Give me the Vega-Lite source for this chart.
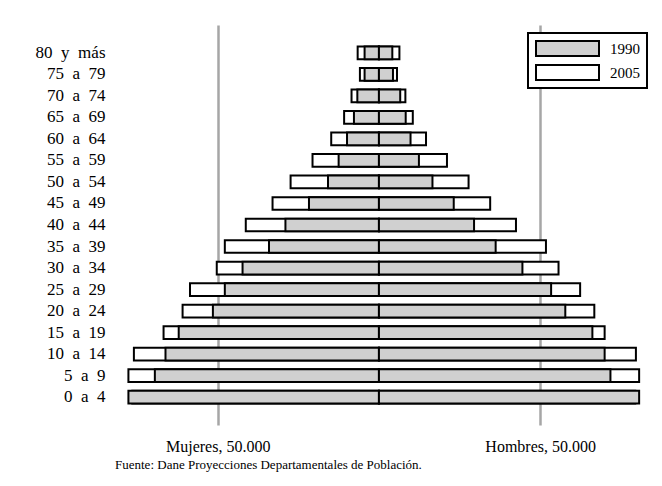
{
  "$schema": "https://vega.github.io/schema/vega-lite/v6.json",
  "width": 532,
  "height": 400,
  "autosize": "none",
  "padding": {"left": 121, "top": 25, "right": 9, "bottom": 61},
  "background": "white",
  "config": {"view": {"stroke": null}, "font": "Liberation Serif"},
  "title": {"text": "Fuente: Dane Proyecciones Departamentales de Población.", "orient": "bottom", "anchor": "start", "frame": "group", "fontSize": 13, "fontWeight": "normal", "font": "Liberation Serif", "color": "black", "offset": 5, "dx": -6},
  "data": {"values": [
    {"edad": "80 y más", "sexo": "Mujeres", "anio": "1990", "poblacion": 4450},
    {"edad": "80 y más", "sexo": "Mujeres", "anio": "2005", "poblacion": 6600},
    {"edad": "80 y más", "sexo": "Hombres", "anio": "1990", "poblacion": 4150},
    {"edad": "80 y más", "sexo": "Hombres", "anio": "2005", "poblacion": 6350},
    {"edad": "75 a 79", "sexo": "Mujeres", "anio": "1990", "poblacion": 4450},
    {"edad": "75 a 79", "sexo": "Mujeres", "anio": "2005", "poblacion": 5900},
    {"edad": "75 a 79", "sexo": "Hombres", "anio": "1990", "poblacion": 4350},
    {"edad": "75 a 79", "sexo": "Hombres", "anio": "2005", "poblacion": 5600},
    {"edad": "70 a 74", "sexo": "Mujeres", "anio": "1990", "poblacion": 6700},
    {"edad": "70 a 74", "sexo": "Mujeres", "anio": "2005", "poblacion": 8500},
    {"edad": "70 a 74", "sexo": "Hombres", "anio": "1990", "poblacion": 6600},
    {"edad": "70 a 74", "sexo": "Hombres", "anio": "2005", "poblacion": 8200},
    {"edad": "65 a 69", "sexo": "Mujeres", "anio": "1990", "poblacion": 7750},
    {"edad": "65 a 69", "sexo": "Mujeres", "anio": "2005", "poblacion": 10800},
    {"edad": "65 a 69", "sexo": "Hombres", "anio": "1990", "poblacion": 8300},
    {"edad": "65 a 69", "sexo": "Hombres", "anio": "2005", "poblacion": 10500},
    {"edad": "60 a 64", "sexo": "Mujeres", "anio": "1990", "poblacion": 9900},
    {"edad": "60 a 64", "sexo": "Mujeres", "anio": "2005", "poblacion": 14800},
    {"edad": "60 a 64", "sexo": "Hombres", "anio": "1990", "poblacion": 9800},
    {"edad": "60 a 64", "sexo": "Hombres", "anio": "2005", "poblacion": 14600},
    {"edad": "55 a 59", "sexo": "Mujeres", "anio": "1990", "poblacion": 12500},
    {"edad": "55 a 59", "sexo": "Mujeres", "anio": "2005", "poblacion": 20600},
    {"edad": "55 a 59", "sexo": "Hombres", "anio": "1990", "poblacion": 12400},
    {"edad": "55 a 59", "sexo": "Hombres", "anio": "2005", "poblacion": 21100},
    {"edad": "50 a 54", "sexo": "Mujeres", "anio": "1990", "poblacion": 15800},
    {"edad": "50 a 54", "sexo": "Mujeres", "anio": "2005", "poblacion": 27400},
    {"edad": "50 a 54", "sexo": "Hombres", "anio": "1990", "poblacion": 16600},
    {"edad": "50 a 54", "sexo": "Hombres", "anio": "2005", "poblacion": 27800},
    {"edad": "45 a 49", "sexo": "Mujeres", "anio": "1990", "poblacion": 21700},
    {"edad": "45 a 49", "sexo": "Mujeres", "anio": "2005", "poblacion": 33000},
    {"edad": "45 a 49", "sexo": "Hombres", "anio": "1990", "poblacion": 23200},
    {"edad": "45 a 49", "sexo": "Hombres", "anio": "2005", "poblacion": 34500},
    {"edad": "40 a 44", "sexo": "Mujeres", "anio": "1990", "poblacion": 29000},
    {"edad": "40 a 44", "sexo": "Mujeres", "anio": "2005", "poblacion": 41300},
    {"edad": "40 a 44", "sexo": "Hombres", "anio": "1990", "poblacion": 29500},
    {"edad": "40 a 44", "sexo": "Hombres", "anio": "2005", "poblacion": 42500},
    {"edad": "35 a 39", "sexo": "Mujeres", "anio": "1990", "poblacion": 34100},
    {"edad": "35 a 39", "sexo": "Mujeres", "anio": "2005", "poblacion": 47800},
    {"edad": "35 a 39", "sexo": "Hombres", "anio": "1990", "poblacion": 36200},
    {"edad": "35 a 39", "sexo": "Hombres", "anio": "2005", "poblacion": 51800},
    {"edad": "30 a 34", "sexo": "Mujeres", "anio": "1990", "poblacion": 42300},
    {"edad": "30 a 34", "sexo": "Mujeres", "anio": "2005", "poblacion": 50300},
    {"edad": "30 a 34", "sexo": "Hombres", "anio": "1990", "poblacion": 44500},
    {"edad": "30 a 34", "sexo": "Hombres", "anio": "2005", "poblacion": 55700},
    {"edad": "25 a 29", "sexo": "Mujeres", "anio": "1990", "poblacion": 47800},
    {"edad": "25 a 29", "sexo": "Mujeres", "anio": "2005", "poblacion": 58600},
    {"edad": "25 a 29", "sexo": "Hombres", "anio": "1990", "poblacion": 53400},
    {"edad": "25 a 29", "sexo": "Hombres", "anio": "2005", "poblacion": 62400},
    {"edad": "20 a 24", "sexo": "Mujeres", "anio": "1990", "poblacion": 51500},
    {"edad": "20 a 24", "sexo": "Mujeres", "anio": "2005", "poblacion": 60900},
    {"edad": "20 a 24", "sexo": "Hombres", "anio": "1990", "poblacion": 57800},
    {"edad": "20 a 24", "sexo": "Hombres", "anio": "2005", "poblacion": 66800},
    {"edad": "15 a 19", "sexo": "Mujeres", "anio": "1990", "poblacion": 62100},
    {"edad": "15 a 19", "sexo": "Mujeres", "anio": "2005", "poblacion": 66800},
    {"edad": "15 a 19", "sexo": "Hombres", "anio": "1990", "poblacion": 66200},
    {"edad": "15 a 19", "sexo": "Hombres", "anio": "2005", "poblacion": 70000},
    {"edad": "10 a 14", "sexo": "Mujeres", "anio": "1990", "poblacion": 66200},
    {"edad": "10 a 14", "sexo": "Mujeres", "anio": "2005", "poblacion": 76000},
    {"edad": "10 a 14", "sexo": "Hombres", "anio": "1990", "poblacion": 70000},
    {"edad": "10 a 14", "sexo": "Hombres", "anio": "2005", "poblacion": 79700},
    {"edad": "5 a 9", "sexo": "Mujeres", "anio": "1990", "poblacion": 69500},
    {"edad": "5 a 9", "sexo": "Mujeres", "anio": "2005", "poblacion": 77700},
    {"edad": "5 a 9", "sexo": "Hombres", "anio": "1990", "poblacion": 71800},
    {"edad": "5 a 9", "sexo": "Hombres", "anio": "2005", "poblacion": 80700},
    {"edad": "0 a 4", "sexo": "Mujeres", "anio": "1990", "poblacion": 77700},
    {"edad": "0 a 4", "sexo": "Mujeres", "anio": "2005", "poblacion": 76500},
    {"edad": "0 a 4", "sexo": "Hombres", "anio": "1990", "poblacion": 80700},
    {"edad": "0 a 4", "sexo": "Hombres", "anio": "2005", "poblacion": 79500}
  ]},
  "transform": [
    {"calculate": "datum.sexo === 'Mujeres' ? -datum.poblacion : datum.poblacion", "as": "valor"}
  ],
  "encoding": {
    "y": {
      "field": "edad", "type": "nominal", "title": null,
      "scale": {
        "domain": ["80 y más", "75 a 79", "70 a 74", "65 a 69", "60 a 64", "55 a 59", "50 a 54", "45 a 49", "40 a 44", "35 a 39", "30 a 34", "25 a 29", "20 a 24", "15 a 19", "10 a 14", "5 a 9", "0 a 4"],
        "paddingInner": 0.41, "paddingOuter": 1
      },
      "axis": {
        "ticks": false, "domain": false, "labelPadding": 16,
        "labelFont": "Liberation Serif", "labelFontSize": 17, "labelColor": "black",
        "labelExpr": "replace(datum.label, regexp(' ', 'g'), '\u00a0\u00a0')"
      }
    },
    "x": {
      "field": "valor", "type": "quantitative", "title": null, "stack": null,
      "scale": {"domain": [-80000, 85000], "nice": false, "zero": false},
      "axis": {
        "values": [-50000, 50000],
        "labelExpr": "datum.value < 0 ? 'Mujeres, 50.000' : 'Hombres, 50.000'",
        "grid": true, "gridColor": "#a6a6a6", "gridWidth": 2.5,
        "ticks": false, "domain": false,
        "labelFont": "Liberation Serif", "labelFontSize": 16, "labelColor": "black",
        "labelPadding": 13, "labelFlush": false, "labelOverlap": false
      }
    },
    "color": {
      "field": "anio", "type": "nominal",
      "scale": {"domain": ["1990", "2005"], "range": ["#d0d0d0", "#ffffff"]},
      "legend": {
        "title": null, "orient": "none", "legendX": 407, "legendY": 8,
        "symbolType": "M-1,-0.238H1V0.238H-1Z", "symbolSize": 3969,
        "symbolStrokeColor": "black", "symbolStrokeWidth": 2, "symbolOpacity": 1,
        "labelFont": "Liberation Serif", "labelFontSize": 15, "labelColor": "black",
        "labelOffset": 10, "clipHeight": 17, "rowPadding": 7, "padding": 7,
        "strokeColor": "black", "fillColor": "white",
        "encode": {"legend": {"update": {"strokeWidth": {"value": 2}}}}
      }
    }
  },
  "layer": [
    {
      "transform": [{"filter": "datum.anio === '2005'"}],
      "mark": {"type": "bar", "stroke": "black", "strokeWidth": 2, "opacity": 1}
    },
    {
      "transform": [{"filter": "datum.anio === '1990'"}],
      "mark": {"type": "bar", "stroke": "black", "strokeWidth": 2, "opacity": 1}
    }
  ]
}
